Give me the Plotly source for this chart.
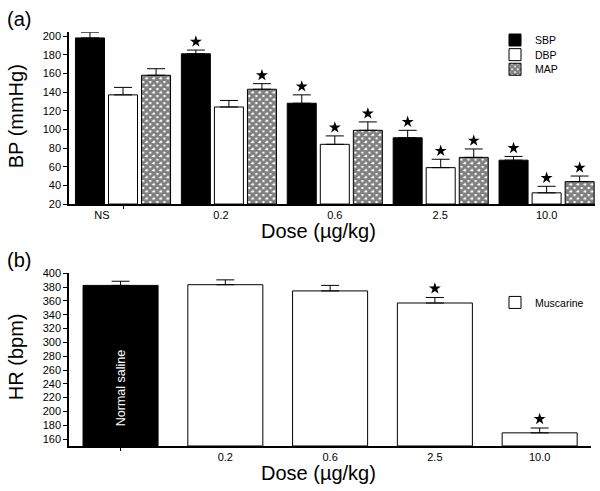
import plotly.graph_objects as go

# ---------------- data ----------------
dose_labels = ["NS", "0.2", "0.6", "2.5", "10.0"]
sbp_mean = [198, 181, 128, 91, 67]
sbp_err = [6, 4, 9, 8, 4]
dbp_mean = [137, 124, 84, 59, 32]
dbp_err = [8, 7, 9, 9, 7]
map_mean = [158, 143, 99, 70, 44]
map_err = [7, 6, 9, 9, 6]
sbp_sig = [False, True, True, True, True]
dbp_sig = [False, False, True, True, True]
map_sig = [False, True, True, True, True]

hr_labels = ["", "0.2", "0.6", "2.5", "10.0"]
hr_ns_mean = [382.5]
hr_ns_err = [6]
hr_mus_mean = [383.5, 374.5, 357, 169]
hr_mus_err = [7, 8, 8, 7]
hr_mus_sig = [False, False, True, True]

# --------------- layout helpers ---------------
W, H = 600, 491
def px_x(p):
    return p / W
def px_y(p):
    return 1 - p / H

FONT = "Liberation Sans, Arial, Helvetica, sans-serif"
grp = list(range(len(dose_labels)))

fig = go.Figure()

def err(e):
    return dict(type="data", array=e, arrayminus=[0] * len(e), symmetric=False,
                color="black", thickness=1, width=9)

line = dict(color="black", width=1)
fig.add_trace(go.Bar(x=grp, y=[m - 20 for m in sbp_mean], base=20, name="SBP",
                     marker=dict(color="black", line=line), error_y=err(sbp_err),
                     xaxis="x", yaxis="y", legend="legend"))
fig.add_trace(go.Bar(x=grp, y=[m - 20 for m in dbp_mean], base=20, name="DBP",
                     marker=dict(color="white", line=line), error_y=err(dbp_err),
                     xaxis="x", yaxis="y", legend="legend3"))
fig.add_trace(go.Bar(x=grp, y=[m - 20 for m in map_mean], base=20, name="MAP",
                     marker=dict(color="white", line=line,
                                 pattern=dict(shape="x", fgcolor="black", bgcolor="white",
                                              size=5, solidity=0.8)),
                     error_y=err(map_err), xaxis="x", yaxis="y", legend="legend4"))

# significance stars panel (a)
slot = 0.312
sx, sy = [], []
for k, (means, errs, sig) in enumerate([(sbp_mean, sbp_err, sbp_sig),
                                         (dbp_mean, dbp_err, dbp_sig),
                                         (map_mean, map_err, map_sig)]):
    for i in grp:
        if sig[i]:
            sx.append(i + (k - 1) * slot)
            sy.append(means[i] + errs[i] + 9)
fig.add_trace(go.Scatter(x=sx, y=sy, mode="markers", showlegend=False,
                         marker=dict(symbol="star", size=9, color="black",
                                     line=dict(width=0)),
                         xaxis="x", yaxis="y"))

# panel (b)
bw = 0.716
fig.add_trace(go.Bar(x=[0], y=[m - 150 for m in hr_ns_mean], base=150, showlegend=False,
                     width=bw, offset=-bw / 2,
                     marker=dict(color="black", line=line), error_y=err(hr_ns_err),
                     xaxis="x2", yaxis="y2"))
fig.add_trace(go.Bar(x=[1, 2, 3, 4], y=[m - 150 for m in hr_mus_mean], base=150,
                     name="Muscarine", width=bw, offset=-bw / 2,
                     marker=dict(color="white", line=line), error_y=err(hr_mus_err),
                     xaxis="x2", yaxis="y2", legend="legend2"))
bx = [i + 1 for i in range(4) if hr_mus_sig[i]]
by = [hr_mus_mean[i] + hr_mus_err[i] + 13 for i in range(4) if hr_mus_sig[i]]
fig.add_trace(go.Scatter(x=bx, y=by, mode="markers", showlegend=False,
                         marker=dict(symbol="star", size=9, color="black",
                                     line=dict(width=0)),
                         xaxis="x2", yaxis="y2"))

tickfont = dict(family=FONT, size=11, color="black")
titlefont = dict(family=FONT, size=20, color="black")
legfont = dict(family=FONT, size=10.5, color="black")

def leg(cy):
    # legend box top placed so that the single item is centred on cy
    return dict(x=px_x(495), y=px_y(cy - 12), xanchor="left", yanchor="top",
                font=legfont, bgcolor="rgba(0,0,0,0)")

fig.update_layout(
    width=W, height=H, margin=dict(l=0, r=0, t=0, b=0),
    paper_bgcolor="white", plot_bgcolor="white",
    barmode="group", bargap=0.064, bargroupgap=0.122,
    font=dict(family=FONT, color="black"),
    xaxis=dict(domain=[px_x(69), px_x(595)], range=[-0.51, 4.457], anchor="y",
               tickmode="array", tickvals=[-0.2, 0.925, 2.0, 2.995, 4.0],
               ticktext=dose_labels, ticks="", tickfont=tickfont,
               showline=True, linecolor="black", linewidth=1.5, showgrid=False,
               zeroline=False,
               minor=dict(tickmode="array", tickvals=[0], ticks="outside",
                          ticklen=3, tickcolor="black")),
    yaxis=dict(domain=[px_y(203), px_y(27)], range=[20, 204], anchor="x",
               tickmode="array", tickvals=list(range(20, 201, 20)),
               ticks="outside", ticklen=4, tickcolor="black", tickfont=tickfont,
               showline=True, linecolor="black", linewidth=1.5, showgrid=False,
               zeroline=False),
    xaxis2=dict(domain=[px_x(69), px_x(591)], range=[-0.492, 4.49], anchor="y2",
                tickmode="array", tickvals=[0, 1, 2, 3, 4], ticktext=hr_labels,
                ticks="", tickfont=tickfont,
                showline=True, linecolor="black", linewidth=1.5, showgrid=False,
                zeroline=False,
                minor=dict(tickmode="array", tickvals=[0], ticks="outside",
                           ticklen=3, tickcolor="black")),
    yaxis2=dict(domain=[px_y(451), px_y(274)], range=[150, 400], anchor="x2",
                tickmode="array", tickvals=list(range(160, 401, 20)),
                ticks="outside", ticklen=4, tickcolor="black", tickfont=tickfont,
                showline=True, linecolor="black", linewidth=1.5, showgrid=False,
                zeroline=False),
    legend=leg(32),
    legend3=leg(47),
    legend4=leg(62),
    legend2=leg(301),
    showlegend=True,
)

ann = [
    dict(text="(a)", x=px_x(5), y=px_y(13), xanchor="left", yanchor="middle",
         font=dict(family=FONT, size=20, color="black")),
    dict(text="(b)", x=px_x(5), y=px_y(260), xanchor="left", yanchor="middle",
         font=dict(family=FONT, size=20, color="black")),
    dict(text="BP (mmHg)", x=px_x(16), y=px_y(113), xanchor="center", yanchor="middle",
         textangle=-90, font=titlefont),
    dict(text="HR (bpm)", x=px_x(16), y=px_y(360), xanchor="center", yanchor="middle",
         textangle=-90, font=titlefont),
    dict(text="Dose (µg/kg)", x=px_x(318), y=px_y(231), xanchor="center",
         yanchor="middle", font=titlefont),
    dict(text="Dose (µg/kg)", x=px_x(318), y=px_y(479), xanchor="center",
         yanchor="middle", font=titlefont),
]
for a in ann:
    a.update(xref="paper", yref="paper", showarrow=False)
ann.append(dict(text="Normal saline", x=0, y=233, xref="x2", yref="y2", textangle=-90,
                showarrow=False, font=dict(family=FONT, size=12.5, color="white")))
fig.update_layout(annotations=ann)

fig.write_html("out.html", config={"displayModeBar": False},
               post_script="document.body.style.margin='0';")
